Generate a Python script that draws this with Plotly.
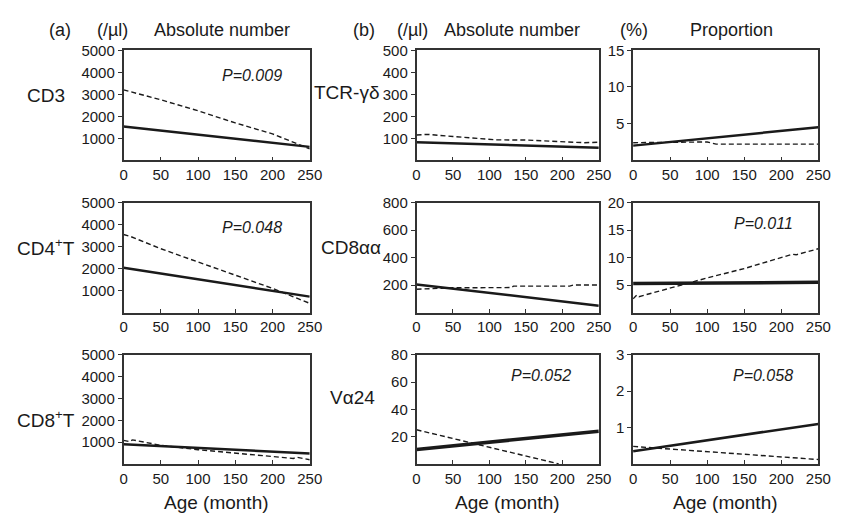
import plotly.graph_objects as go

W, H = 846, 513

# ---------------- data ----------------
age_ticks = [0, 50, 100, 150, 200, 250]

# (a) absolute number (/µl)
cd3_solid_age = [0, 250]
cd3_solid = [1540, 610]
cd3_dash_age = [0, 50, 100, 150, 200, 235, 250]
cd3_dash = [3200, 2750, 2250, 1700, 1200, 700, 520]

cd4_solid_age = [0, 250]
cd4_solid = [2040, 725]
cd4_dash_age = [0, 10, 50, 100, 150, 200, 235, 250]
cd4_dash = [3550, 3450, 2900, 2300, 1700, 1100, 620, 420]

cd8_solid_age = [0, 250]
cd8_solid = [900, 480]
cd8_dash_age = [0, 8, 12, 50, 100, 150, 200, 228, 233, 250]
cd8_dash = [1080, 1020, 1100, 850, 650, 480, 330, 250, 300, 190]

# (b) absolute number (/µl)
gd_abs_solid_age = [0, 250]
gd_abs_solid = [82, 57]
gd_abs_dash_age = [0, 15, 50, 100, 110, 150, 200, 230, 250]
gd_abs_dash = [115, 118, 108, 98, 93, 92, 86, 80, 82]

aa_abs_solid_age = [0, 250]
aa_abs_solid = [205, 50]
aa_abs_dash_age = [0, 50, 130, 133, 210, 215, 250]
aa_abs_dash = [170, 180, 182, 192, 192, 200, 200]

va_abs_solid_age = [0, 250]
va_abs_solid = [10.5, 24]
va_abs_dash_age = [0, 195]
va_abs_dash = [25, 0]

# (b) proportion (%)
gd_pct_solid_age = [0, 250]
gd_pct_solid = [2.0, 4.5]
gd_pct_dash_age = [0, 50, 100, 112, 250]
gd_pct_dash = [2.4, 2.45, 2.5, 2.2, 2.2]

aa_pct_solid_age = [0, 250]
aa_pct_solid = [5.3, 5.5]
aa_pct_dash_age = [0, 5, 8, 50, 100, 150, 200, 215, 220, 250]
aa_pct_dash = [2.5, 3.2, 2.9, 4.5, 6.3, 8.0, 10.0, 10.6, 10.5, 11.6]

va_pct_solid_age = [0, 250]
va_pct_solid = [0.35, 1.1]
va_pct_dash_age = [0, 20, 100, 150, 200, 250]
va_pct_dash = [0.48, 0.45, 0.35, 0.27, 0.2, 0.12]

# y axes (max and tick values) per panel, row-major
y_max = [5000, 500, 15, 5000, 800, 20, 5000, 80, 3]
y_ticks = [
    [1000, 2000, 3000, 4000, 5000],
    [100, 200, 300, 400, 500],
    [5, 10, 15],
    [1000, 2000, 3000, 4000, 5000],
    [200, 400, 600, 800],
    [5, 10, 15, 20],
    [1000, 2000, 3000, 4000, 5000],
    [20, 40, 60, 80],
    [1, 2, 3],
]

panels = [
    (cd3_solid_age, cd3_solid, cd3_dash_age, cd3_dash),
    (gd_abs_solid_age, gd_abs_solid, gd_abs_dash_age, gd_abs_dash),
    (gd_pct_solid_age, gd_pct_solid, gd_pct_dash_age, gd_pct_dash),
    (cd4_solid_age, cd4_solid, cd4_dash_age, cd4_dash),
    (aa_abs_solid_age, aa_abs_solid, aa_abs_dash_age, aa_abs_dash),
    (aa_pct_solid_age, aa_pct_solid, aa_pct_dash_age, aa_pct_dash),
    (cd8_solid_age, cd8_solid, cd8_dash_age, cd8_dash),
    (va_abs_solid_age, va_abs_solid, va_abs_dash_age, va_abs_dash),
    (va_pct_solid_age, va_pct_solid, va_pct_dash_age, va_pct_dash),
]

row_labels = ["CD3", "CD4<sup>+</sup>T", "CD8<sup>+</sup>T"]
row_labels_b = ["TCR-γδ", "CD8αα", "Vα24"]
p_values = {0: "P=0.009", 3: "P=0.048", 5: "P=0.011", 7: "P=0.052", 8: "P=0.058"}

# ---------------- layout geometry (pixels) ----------------
col_px = [(122, 312), (421, 607), (642, 831)]
row_px = [(42, 154), (197, 309), (352, 463)]
solid_w = [2.5, 2.5, 2.5, 2.5, 2.5, 3.5, 2.5, 3.5, 2.5]

FONT = "Liberation Sans, Arial, Helvetica, sans-serif"
INK = "#1a1a1a"

fig = go.Figure()
layout = {}
for i, (sx, sy, dx, dy) in enumerate(panels):
    r, c = divmod(i, 3)
    n = i + 1
    xa = "x" if n == 1 else f"x{n}"
    ya = "y" if n == 1 else f"y{n}"
    fig.add_trace(go.Scatter(x=dx, y=dy, mode="lines", xaxis=xa, yaxis=ya,
                             line=dict(color=INK, width=1.4, dash="5px,3px"),
                             showlegend=False, hoverinfo="skip"))
    fig.add_trace(go.Scatter(x=sx, y=sy, mode="lines", xaxis=xa, yaxis=ya,
                             line=dict(color=INK, width=solid_w[i]),
                             showlegend=False, hoverinfo="skip"))
    x0, x1 = col_px[c]
    y0, y1 = row_px[r]
    common = dict(showline=True, linecolor="#333333", linewidth=1.5, mirror=True,
                  showgrid=False, zeroline=False,
                  tickfont=dict(family=FONT, size=15, color=INK),
                  tickcolor="#333333", ticklen=4, tickwidth=1.2)
    layout["xaxis" if n == 1 else f"xaxis{n}"] = dict(
        domain=[x0 / W, x1 / W], anchor=ya, range=[0, 250],
        tickvals=age_ticks, ticks="inside", **common)
    layout["yaxis" if n == 1 else f"yaxis{n}"] = dict(
        domain=[1 - y1 / H, 1 - y0 / H], anchor=xa, range=[0, y_max[i]],
        tickvals=y_ticks[i], ticks="outside", **common)

annotations = []

def ann(text, px, py, size, italic=False, xanchor="center"):
    annotations.append(dict(
        text=f"<i>{text}</i>" if italic else text, x=px / W, y=1 - py / H,
        xref="paper", yref="paper", showarrow=False, xanchor=xanchor, yanchor="middle",
        font=dict(family=FONT, size=size, color=INK)))

ann("(a)", 57, 21, 18)
ann("(/µl)", 111, 21, 18)
ann("Absolute number", 222, 21, 18)
ann("(b)", 367, 21, 18)
ann("(/µl)", 417, 21, 18)
ann("Absolute number", 518, 21, 18)
ann("(%)", 643, 21, 18)
ann("Proportion", 742, 21, 18)

row_label_y = [88, 242, 417]
row_label_b_y = [85, 243, 395]
row_label_b_x = [350, 354, 356]
for r in range(3):
    ann(row_labels[r], 43, row_label_y[r], 19)
    ann(row_labels_b[r], row_label_b_x[r], row_label_b_y[r], 19)

for c in range(3):
    ann("Age (month)", (col_px[c][0] + col_px[c][1]) / 2, 502, 19)

p_pos = {0: (253, 68), 3: (253, 222), 5: (775, 218), 7: (548, 373), 8: (775, 373)}
for k, txt in p_values.items():
    ann(txt, p_pos[k][0], p_pos[k][1], 16, italic=True)

fig.update_layout(
    width=W, height=H, margin=dict(l=0, r=0, t=0, b=0),
    paper_bgcolor="white", plot_bgcolor="white",
    font=dict(family=FONT, color=INK),
    annotations=annotations, **layout)

fig.write_html("out.html", config={"displayModeBar": False},
               post_script="document.body.style.margin='0';document.body.style.padding='0';")
